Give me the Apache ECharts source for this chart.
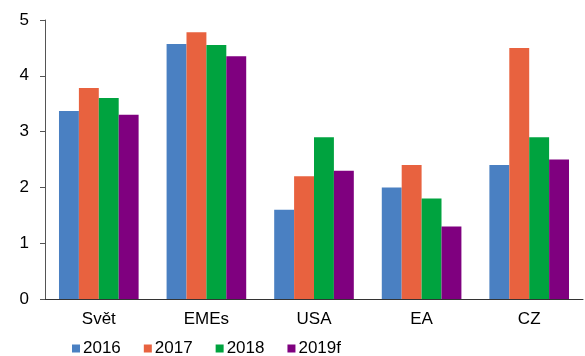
<!DOCTYPE html>
<html>
<head>
<meta charset="utf-8">
<script src="https://cdn.jsdelivr.net/npm/echarts@6/dist/echarts.min.js"></script>
<style>
  html, body { margin: 0; padding: 0; background: #fff; }
  #chart { width: 585px; height: 356px; }
</style>
</head>
<body>
<div id="chart"></div>
<script>
// Regions and yearly values
const categories = ['Svět', 'EMEs', 'USA', 'EA', 'CZ'];
const seriesNames = ['2016', '2017', '2018', '2019f'];
const v2016 = [3.37, 4.57, 1.6, 2.0, 2.4];
const v2017 = [3.78, 4.78, 2.2, 2.4, 4.5];
const v2018 = [3.6, 4.55, 2.9, 1.8, 2.9];
const v2019f = [3.3, 4.35, 2.3, 1.3, 2.5];
const yTicks = [0, 1, 2, 3, 4, 5];

const colors = ['#4a80c2', '#e8623f', '#00a33f', '#7f007f'];
const values = [v2016, v2017, v2018, v2019f];
const font = 'Liberation Sans, Arial, sans-serif';

const chart = echarts.init(document.getElementById('chart'), null, { renderer: 'canvas' });
chart.setOption({
  animation: false,
  color: colors,
  grid: { left: 45, right: 2, top: 20, bottom: 57, containLabel: false },
  legend: {
    bottom: -6,
    left: 67,
    itemWidth: 8,
    itemHeight: 8,
    itemGap: 23,
    icon: 'rect',
    textStyle: { fontFamily: font, fontSize: 17, color: '#000', padding: [0, 0, 0, -2] },
    data: seriesNames
  },
  xAxis: {
    type: 'category',
    data: categories,
    axisLine: { lineStyle: { color: '#333', width: 1 } },
    axisTick: { show: false },
    axisLabel: { fontFamily: font, fontSize: 17, color: '#000', margin: 12 }
  },
  yAxis: {
    type: 'value',
    min: yTicks[0],
    max: yTicks[yTicks.length - 1],
    interval: 1,
    splitLine: { show: false },
    axisLine: { show: true, lineStyle: { color: '#555', width: 1 } },
    axisTick: { show: true, length: 5, lineStyle: { color: '#555' } },
    axisLabel: { fontFamily: font, fontSize: 17, color: '#000', margin: 16 }
  },
  series: seriesNames.map((name, i) => ({
    name,
    type: 'bar',
    data: values[i],
    barGap: '0%',
    barCategoryGap: '26%',
    itemStyle: { color: colors[i] }
  }))
});
</script>
</body>
</html>
